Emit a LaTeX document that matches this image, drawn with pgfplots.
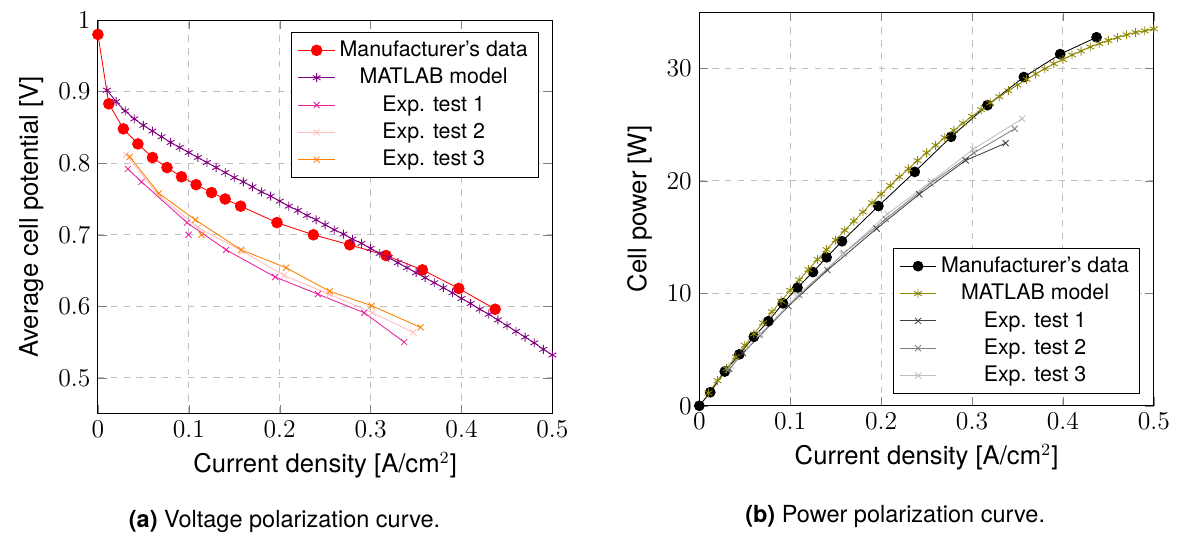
\documentclass[border=0pt]{standalone}
\usepackage{fontspec}
\setmainfont{TeX Gyre Heros}
\usepackage{pgfplots}
\pgfplotsset{compat=1.18}

\definecolor{exptone}{RGB}{232,32,155}

% Shared look of both polarization plots
\pgfplotsset{
  polstyle/.style={
    scale only axis,
    width=212.6pt, height=184.1pt,
    xmin=0, xmax=0.5,
    xtick={0,0.1,0.2,0.3,0.4,0.5},
    grid=major,
    major grid style={dashed, gray!50},
    label style={font=\fontsize{12}{14.4}\selectfont},
    tick label style={font=\fontsize{12}{14.4}\selectfont},
    legend style={font=\fontsize{10}{12}\selectfont},
    legend cell align=center,
    xlabel={Current density [A/cm$^2$]},
  },
}

\begin{document}
\begin{tikzpicture}

% ---------- (a) voltage ----------
\begin{axis}[polstyle,
  at={(0pt,0pt)},
  ymin=0.45, ymax=1,
  ytick={0.5,0.6,0.7,0.8,0.9,1},
  ylabel={Average cell potential [V]},
  legend pos=north east,
]
\addplot[red, mark=*, mark size=2.5pt] coordinates {
  (0,0.980) (0.012,0.883) (0.028,0.848) (0.044,0.827) (0.060,0.808)
  (0.076,0.794) (0.092,0.781) (0.108,0.770) (0.125,0.759) (0.140,0.750)
  (0.157,0.740) (0.197,0.717) (0.237,0.700) (0.277,0.686) (0.317,0.671)
  (0.357,0.651) (0.397,0.625) (0.437,0.596)
};
\addlegendentry{Manufacturer's data}
\addplot[violet, mark=asterisk, mark size=2.1pt] coordinates {
  (0.01,0.902) (0.02,0.886) (0.03,0.873) (0.04,0.862) (0.05,0.853)
  (0.06,0.845) (0.07,0.837) (0.08,0.829) (0.09,0.822) (0.10,0.815)
  (0.11,0.808) (0.12,0.801) (0.13,0.794) (0.14,0.787) (0.15,0.780)
  (0.16,0.774) (0.17,0.767) (0.18,0.760) (0.19,0.754) (0.20,0.747)
  (0.21,0.740) (0.22,0.734) (0.23,0.727) (0.24,0.721) (0.25,0.714)
  (0.26,0.707) (0.27,0.701) (0.28,0.694) (0.29,0.688) (0.30,0.681)
  (0.31,0.674) (0.32,0.668) (0.33,0.661) (0.34,0.654) (0.35,0.647)
  (0.36,0.640) (0.37,0.633) (0.38,0.626) (0.39,0.619) (0.40,0.611)
  (0.41,0.604) (0.42,0.596) (0.43,0.589) (0.44,0.581) (0.45,0.573)
  (0.46,0.565) (0.47,0.557) (0.48,0.549) (0.49,0.540) (0.50,0.532)
};
\addlegendentry{MATLAB model}
\addplot[exptone, mark=x, mark size=2pt] coordinates {
  (0.033,0.792) (0.048,0.774) (0.098,0.717) (0.141,0.679) (0.195,0.641)
  (0.242,0.617) (0.293,0.591) (0.337,0.550)
};
\addlegendentry{Exp. test 1}
\addplot[pink, mark=x, mark size=2pt] coordinates {
  (0.031,0.812) (0.066,0.756) (0.110,0.710) (0.159,0.677) (0.205,0.643)
  (0.2545,0.617) (0.302,0.591) (0.347,0.5635)
};
\addlegendentry{Exp. test 2}
\addplot[orange, mark=x, mark size=2pt] coordinates {
  (0.035,0.809) (0.067,0.758) (0.107,0.721) (0.1575,0.679) (0.207,0.654)
  (0.255,0.621) (0.301,0.601) (0.355,0.5705)
};
\addlegendentry{Exp. test 3}
\addplot[exptone, only marks, mark=x, mark size=2pt, forget plot] coordinates {(0.0997,0.700)};
\addplot[orange, only marks, mark=x, mark size=2pt, forget plot] coordinates {(0.114,0.700)};
\end{axis}

% ---------- (b) power ----------
\begin{axis}[polstyle,
  at={(281.3pt,3.7pt)},
  ymin=0, ymax=35,
  ytick={0,10,20,30},
  ylabel={Cell power [W]},
  legend pos=south east,
]
\addplot[black, mark=*, mark size=2.3pt] coordinates {
  (0,0) (0.012,1.20) (0.028,3.04) (0.044,4.57) (0.060,6.13)
  (0.076,7.52) (0.092,9.11) (0.108,10.50) (0.125,11.89) (0.140,13.20)
  (0.157,14.63) (0.197,17.76) (0.237,20.80) (0.277,23.92) (0.317,26.73)
  (0.357,29.23) (0.397,31.27) (0.437,32.77)
};
\addlegendentry{Manufacturer's data}
\addplot[olive, mark=asterisk, mark size=2.1pt] coordinates {
  (0.01,1.137) (0.02,2.233) (0.03,3.300) (0.04,4.345) (0.05,5.374)
  (0.06,6.388) (0.07,7.382) (0.08,8.356) (0.09,9.322) (0.10,10.269)
  (0.11,11.199) (0.12,12.111) (0.13,13.006) (0.14,13.883) (0.15,14.742)
  (0.16,15.604) (0.17,16.429) (0.18,17.237) (0.19,18.051) (0.20,18.824)
  (0.21,19.580) (0.22,20.347) (0.23,21.068) (0.24,21.803) (0.25,22.491)
  (0.26,23.162) (0.27,23.848) (0.28,24.485) (0.29,25.140) (0.30,25.742)
  (0.31,26.327) (0.32,26.934) (0.33,27.485) (0.34,28.017) (0.35,28.533)
  (0.36,29.030) (0.37,29.510) (0.38,29.973) (0.39,30.418) (0.40,30.794)
  (0.41,31.203) (0.42,31.541) (0.43,31.912) (0.44,32.211) (0.45,32.489)
  (0.46,32.747) (0.47,32.986) (0.48,33.203) (0.49,33.340) (0.50,33.516)
};
\addlegendentry{MATLAB model}
\addplot[darkgray, mark=x, mark size=2pt] coordinates {
  (0.033,3.293) (0.048,4.681) (0.098,8.854) (0.141,12.063) (0.195,15.749)
  (0.242,18.814) (0.293,21.818) (0.337,23.354)
};
\addlegendentry{Exp. test 1}
\addplot[gray, mark=x, mark size=2pt] coordinates {
  (0.031,3.172) (0.066,6.287) (0.110,9.841) (0.159,13.563) (0.205,16.609)
  (0.2545,19.785) (0.302,22.489) (0.347,24.638)
};
\addlegendentry{Exp. test 2}
\addplot[lightgray, mark=x, mark size=2pt] coordinates {
  (0.035,3.568) (0.067,6.399) (0.107,9.720) (0.1575,13.475) (0.207,17.058)
  (0.255,19.953) (0.301,22.793) (0.355,25.519)
};
\addlegendentry{Exp. test 3}
\end{axis}

% sub-captions
\node[font=\fontsize{11}{13.6}\selectfont] at (87.3pt,-50.5pt) {\textbf{(a)} Voltage polarization curve.};
\node[font=\fontsize{11}{13.6}\selectfont] at (372.9pt,-48.1pt) {\textbf{(b)} Power polarization curve.};

% page frame
\path (-45.8pt,-57.5pt) rectangle (504.2pt,193.5pt);
\end{tikzpicture}
\end{document}
